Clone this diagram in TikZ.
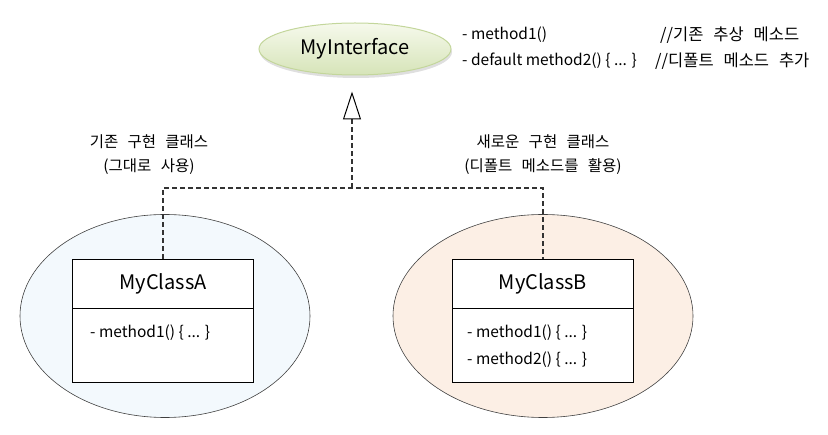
\documentclass[tikz,border=0pt]{standalone}
\usepackage{fontspec}
\setmainfont{Noto Sans CJK KR}
\usetikzlibrary{shapes.geometric, arrows.meta, shadows}

\definecolor{ifaceedge}{HTML}{C3D69B}
\definecolor{ifacetop}{HTML}{F6F9EC}
\definecolor{ifacebot}{HTML}{D6E4B8}
\definecolor{bgA}{HTML}{F3F9FD}
\definecolor{bgB}{HTML}{FCEFE5}
\definecolor{linegray}{HTML}{333333}

\begin{document}
\begin{tikzpicture}[x=1pt, y=-1pt,
    iface/.style={ellipse, draw=ifaceedge, line width=1pt, top color=ifacetop,
      bottom color=ifacebot, minimum width=192pt, minimum height=52pt, inner sep=0pt,
      font=\fontsize{20}{24}\selectfont,
      drop shadow={shadow xshift=1pt, shadow yshift=-3pt, opacity=0.25}},
    group/.style={ellipse, draw=black!75, line width=0.6pt, minimum height=203pt, inner sep=0pt},
    clsname/.style={draw, fill=white, line width=0.6pt, minimum width=181pt, minimum height=49pt,
      font=\fontsize{20}{24}\selectfont},
    clsbody/.style={draw, fill=white, line width=0.6pt, minimum width=181pt, minimum height=74pt},
    txt/.style={font=\fontsize{15.5}{18}\selectfont, inner sep=0pt},
    note/.style={font={\fontsize{15.5}{18}\selectfont\spaceskip=0.6em\relax}, inner sep=0pt},
    cmt/.style={font={\fontsize{16.5}{19}\selectfont\spaceskip=0.6em\relax}, inner sep=0pt},
    implline/.style={draw=linegray, line width=1.6pt, dash pattern=on 5pt off 3pt},
  ]
  \useasboundingbox (0,0) rectangle (828,435);

  % Interface
  \node[iface] (iface) at (355,49) {MyInterface};
  \node[txt, anchor=west] (ifm1) at (462,35) {- method1()};
  \node[cmt, anchor=west] (ifc1) at (660,35) {//기존 추상 메소드};
  \node[txt, anchor=west] (ifm2) at (462,61) {- default method2() \{ ... \}};
  \node[cmt, anchor=west] (ifc2) at (655,61) {//디폴트 메소드 추가};

  % Groups
  \node[group, fill=bgA, minimum width=290pt] (grpA) at (165,316) {};
  \node[group, fill=bgB, minimum width=300pt] (grpB) at (543,316) {};

  % Class A
  \node[clsname] (nameA) at (163,283.5) {MyClassA};
  \node[clsbody] (bodyA) at (163,345) {};
  \node[txt, anchor=west] (mA1) at (90,333) {- method1() \{ ... \}};

  % Class B
  \node[clsname] (nameB) at (543,283.5) {MyClassB};
  \node[clsbody] (bodyB) at (543,345) {};
  \node[txt, anchor=west] (mB1) at (467,333) {- method1() \{ ... \}};
  \node[txt, anchor=west] (mB2) at (467,360) {- method2() \{ ... \}};

  % Labels
  \node[note] (labA1) at (149,142) {기존 구현 클래스};
  \node[note] (labA2) at (149,167) {(그대로 사용)};
  \node[note] (labB1) at (543,142) {새로운 구현 클래스};
  \node[note] (labB2) at (543,167) {(디폴트 메소드를 활용)};

  % Realization
  \coordinate (join) at (352,188);
  \draw[implline] (nameA.north) |- (join) -| (nameB.north);
  \draw[implline, shorten >=16pt,
    -{Triangle[open, length=28pt, width=18pt, line width=1pt, color=black]}]
    (join) -- (join |- iface.south);
\end{tikzpicture}
\end{document}
